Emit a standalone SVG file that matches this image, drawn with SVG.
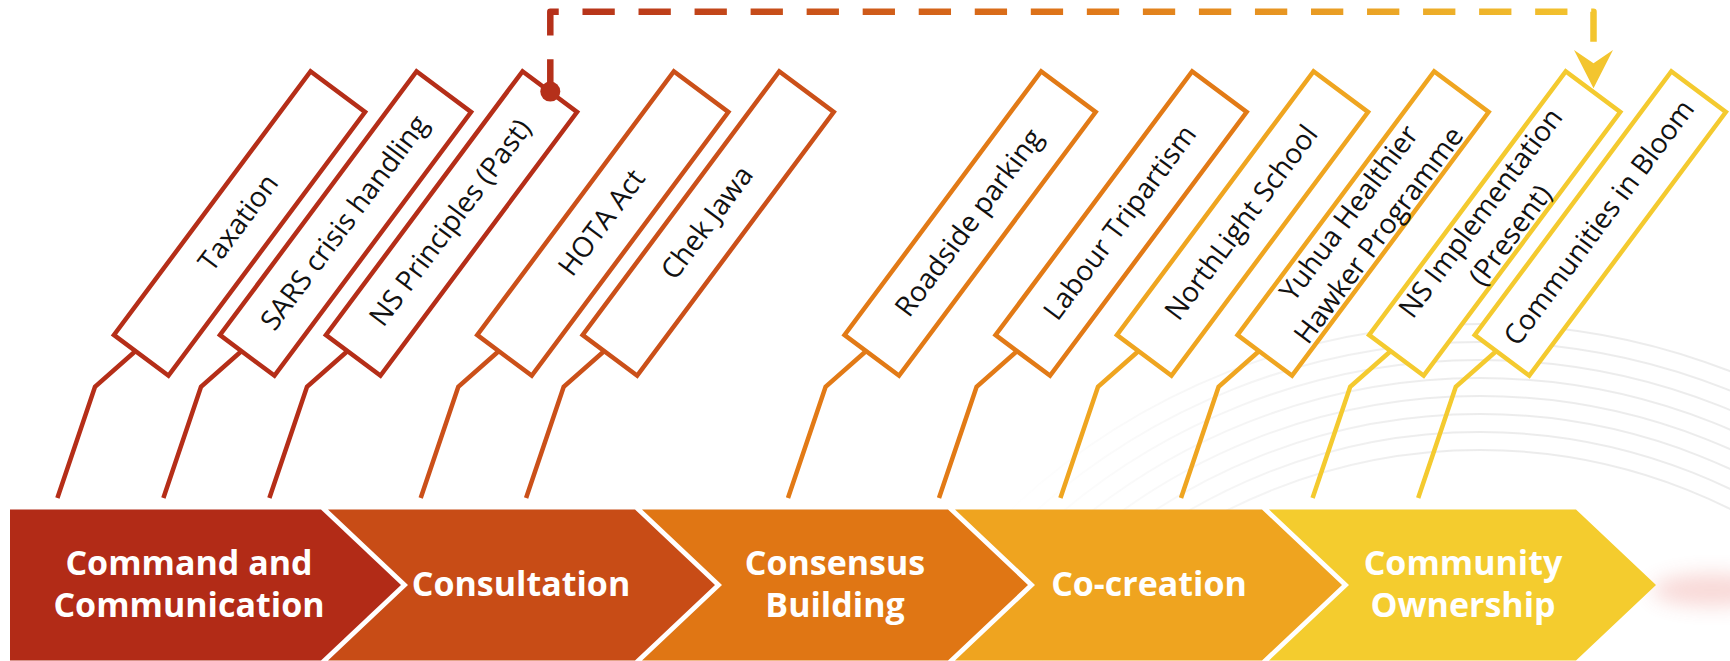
<svg xmlns="http://www.w3.org/2000/svg" width="1730" height="661" viewBox="0 0 1730 661">
  <style>
    .item-box { fill: #ffffff; stroke-width: 4.5; stroke-linejoin: miter; }
    .item-text { font-family: "Open Sans", "Liberation Sans", sans-serif; font-size: 28px; fill: #111111; text-anchor: middle; }
    .stage-text { font-family: "Open Sans", "Liberation Sans", sans-serif; font-size: 34px; font-weight: 700; fill: #ffffff; text-anchor: middle; }
    .leader { fill: none; stroke-width: 4.5; stroke-linejoin: miter; }
    .c1 { stroke: #B52E18; } .c2 { stroke: #CB5019; } .c3 { stroke: #E27A16; } .c4 { stroke: #EFA520; } .c5 { stroke: #F4CA2F; }
    .bg-arc { fill: none; stroke: url(#arcFade); stroke-width: 2; }
  </style>
  <defs>
    <linearGradient id="linkGrad" gradientUnits="userSpaceOnUse" x1="550" y1="0" x2="1594" y2="0">
      <stop offset="0" stop-color="#B5301A"/>
      <stop offset="0.5" stop-color="#DF7619"/>
      <stop offset="1" stop-color="#F3C52F"/>
    </linearGradient>
    <linearGradient id="arcFade" gradientUnits="userSpaceOnUse" x1="1000" y1="0" x2="1450" y2="0">
      <stop offset="0" stop-color="#e4e4e4" stop-opacity="0"/>
      <stop offset="1" stop-color="#e4e4e4" stop-opacity="0.7"/>
    </linearGradient>
    <filter id="soft" x="-50%" y="-100%" width="200%" height="300%">
      <feGaussianBlur stdDeviation="10"/>
    </filter>
    <marker id="arrowHead" markerUnits="userSpaceOnUse" markerWidth="60" markerHeight="60" viewBox="-20 -30 60 60" refX="0" refY="0" orient="auto" overflow="visible">
      <path d="M25,0 L-13.3,-19.5 L0,0 L-13.3,19.5 Z" fill="#F3C52F"/>
    </marker>
    <rect id="boxShape" x="-164.5" y="-34" width="329" height="68"/>
  </defs>

  <rect width="1730" height="661" fill="#ffffff"/>

  <!-- faint ring texture behind the right-hand items -->
  <g id="background">
    <circle class="bg-arc" cx="1480" cy="1010" r="560"/>
    <circle class="bg-arc" cx="1480" cy="1010" r="578"/>
    <circle class="bg-arc" cx="1480" cy="1010" r="596"/>
    <circle class="bg-arc" cx="1480" cy="1010" r="614"/>
    <circle class="bg-arc" cx="1480" cy="1010" r="632"/>
    <circle class="bg-arc" cx="1480" cy="1010" r="650"/>
    <circle class="bg-arc" cx="1480" cy="1010" r="668"/>
    <circle class="bg-arc" cx="1480" cy="1010" r="686"/>
    <ellipse cx="1712" cy="590" rx="60" ry="16" fill="#E0504A" opacity="0.22" filter="url(#soft)"/>
  </g>

  <!-- stage band -->
  <g id="stages">
    <g id="stage-command">
      <polygon points="10,509.5 321,509.5 401,585 321,660.5 10,660.5" fill="#B22B17"/>
      <text class="stage-text" x="189" y="575">Command and</text>
      <text class="stage-text" x="189" y="617">Communication</text>
    </g>
    <g id="stage-consultation">
      <polygon points="328,509.5 635,509.5 715,585 635,660.5 328,660.5 408,585" fill="#C84C16"/>
      <text class="stage-text" x="521" y="596">Consultation</text>
    </g>
    <g id="stage-consensus">
      <polygon points="642,509.5 948,509.5 1028,585 948,660.5 642,660.5 722,585" fill="#E07614"/>
      <text class="stage-text" x="835" y="575">Consensus</text>
      <text class="stage-text" x="835" y="617">Building</text>
    </g>
    <g id="stage-cocreation">
      <polygon points="955,509.5 1262,509.5 1342,585 1262,660.5 955,660.5 1035,585" fill="#EFA41F"/>
      <text class="stage-text" x="1149" y="596">Co-creation</text>
    </g>
    <g id="stage-ownership">
      <polygon points="1269,509.5 1576,509.5 1656,585 1576,660.5 1269,660.5 1349,585" fill="#F4CC2E"/>
      <text class="stage-text" x="1463" y="575">Community</text>
      <text class="stage-text" x="1463" y="617">Ownership</text>
    </g>
  </g>

  <!-- slanted item boxes, all the same shape -->
  <g id="items">
    <g id="item-taxation" transform="translate(239.5,223.5) rotate(-53.3)">
      <use href="#boxShape" class="item-box c1"/>
      <text class="item-text" y="8">Taxation</text>
    </g>
    <g id="item-sars" transform="translate(345.5,223.5) rotate(-53.3)">
      <use href="#boxShape" class="item-box c1"/>
      <text class="item-text" y="8">SARS crisis handling</text>
    </g>
    <g id="item-ns-past" transform="translate(451.5,223.5) rotate(-53.3)">
      <use href="#boxShape" class="item-box c1"/>
      <text class="item-text" y="8">NS Principles (Past)</text>
    </g>
    <g id="item-hota" transform="translate(602.8,223.5) rotate(-53.3)">
      <use href="#boxShape" class="item-box c2"/>
      <text class="item-text" y="8">HOTA Act</text>
    </g>
    <g id="item-chek-jawa" transform="translate(708.2,223.5) rotate(-53.3)">
      <use href="#boxShape" class="item-box c2"/>
      <text class="item-text" y="8">Chek Jawa</text>
    </g>
    <g id="item-roadside" transform="translate(970.1,223.5) rotate(-53.3)">
      <use href="#boxShape" class="item-box c3"/>
      <text class="item-text" y="8">Roadside parking</text>
    </g>
    <g id="item-labour" transform="translate(1121.1,223.5) rotate(-53.3)">
      <use href="#boxShape" class="item-box c3"/>
      <text class="item-text" y="8">Labour Tripartism</text>
    </g>
    <g id="item-northlight" transform="translate(1242.5,223.5) rotate(-53.3)">
      <use href="#boxShape" class="item-box c4"/>
      <text class="item-text" y="8">NorthLight School</text>
    </g>
    <g id="item-yuhua" transform="translate(1363.1,223.5) rotate(-53.3)">
      <use href="#boxShape" class="item-box c4"/>
      <text class="item-text" y="-8">Yuhua Healthier</text>
      <text class="item-text" y="29">Hawker Programme</text>
    </g>
    <g id="item-ns-present" transform="translate(1494.7,223.5) rotate(-53.3)">
      <use href="#boxShape" class="item-box c5"/>
      <text class="item-text" y="-8">NS Implementation</text>
      <text class="item-text" y="29">(Present)</text>
    </g>
    <g id="item-cib" transform="translate(1600.3,223.5) rotate(-53.3)">
      <use href="#boxShape" class="item-box c5"/>
      <text class="item-text" y="8">Communities in Bloom</text>
    </g>
  </g>

  <!-- leader lines from each box down to the band, plus the past-to-present link -->
  <g id="connectors">
    <path class="leader c1" d="M135.3,351.2 L95,386.7 L57.4,498"/>
    <path class="leader c1" d="M241.3,351.2 L201,386.7 L163.4,498"/>
    <path class="leader c1" d="M347.3,351.2 L307,386.7 L269.4,498"/>
    <path class="leader c2" d="M498.6,351.2 L458.3,386.7 L420.7,498"/>
    <path class="leader c2" d="M604,351.2 L563.7,386.7 L526.1,498"/>
    <path class="leader c3" d="M865.9,351.2 L825.6,386.7 L788,498"/>
    <path class="leader c3" d="M1016.9,351.2 L976.6,386.7 L939,498"/>
    <path class="leader c4" d="M1138.3,351.2 L1098,386.7 L1060.4,498"/>
    <path class="leader c4" d="M1258.9,351.2 L1218.6,386.7 L1181,498"/>
    <path class="leader c5" d="M1390.5,351.2 L1350.2,386.7 L1312.6,498"/>
    <path class="leader c5" d="M1496.1,351.2 L1455.8,386.7 L1418.2,498"/>

    <path id="link-past-present" d="M550.3,91.6 V11.7 H1593.5 V63.3" fill="none" stroke="url(#linkGrad)" stroke-width="6.5" stroke-dasharray="32.3 23.74" stroke-linejoin="round" marker-end="url(#arrowHead)"/>
    <circle cx="550.3" cy="91.6" r="10" fill="#B5301A"/>
  </g>
</svg>
